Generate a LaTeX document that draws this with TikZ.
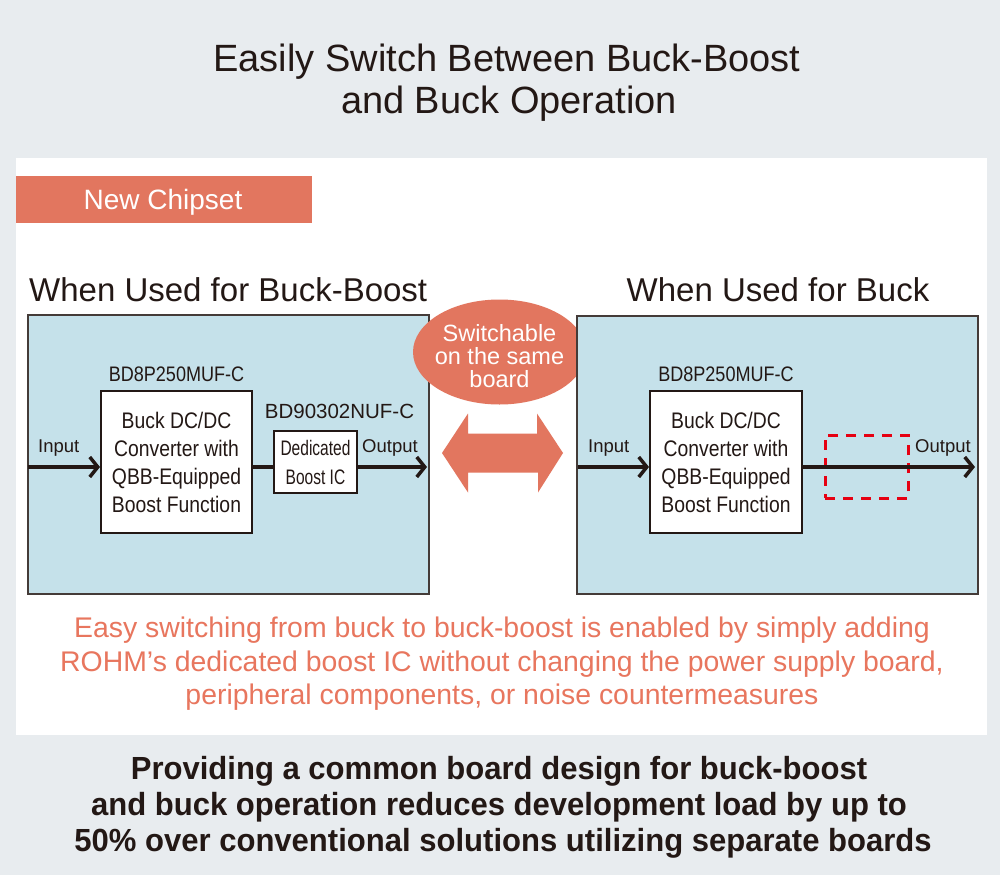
\documentclass[tikz,border=0pt]{standalone}
\usepackage{fontspec}
\setmainfont{Liberation Sans}
\newfontfamily\narrowfont[FakeStretch=0.86]{Liberation Sans}
\newfontfamily\slimfont[FakeStretch=0.74]{Liberation Sans}
\newfontfamily\boldnarrow[FakeStretch=0.97]{Liberation Sans}
\usepackage{xcolor}
\usepackage{tikz}
\usetikzlibrary{arrows.meta, positioning, shapes.geometric}

\definecolor{bggrey}{HTML}{E8ECEF}
\definecolor{rohmorange}{HTML}{E2765F}
\definecolor{noteorange}{HTML}{E8765E}
\definecolor{boardblue}{HTML}{C5E1EA}
\definecolor{inkblack}{HTML}{231815}
\definecolor{dashred}{HTML}{E60012}

\newcommand{\pxsize}[1]{\fontsize{#1}{#1}\selectfont}

\begin{document}
\begin{tikzpicture}[x=1pt, y=-1pt,
  board/.style={draw=inkblack!85, line width=1.2pt, fill=boardblue},
  chip/.style={draw=inkblack, line width=2pt, fill=white, inner sep=0pt, align=center, text=inkblack},
  sig/.style={draw=inkblack, line width=4pt, -{Straight Barb[length=8pt, width=20pt, line width=3.5pt]}},
  wire/.style={draw=inkblack, line width=4pt},
  txt/.style={inner sep=0pt, text=inkblack},
  pinlabel/.style={txt, anchor=base west, font=\pxsize{18.5}},
  partno/.style={txt, anchor=base, font=\narrowfont\pxsize{21}}]
  \useasboundingbox (0,0) rectangle (1000,875);

  % Background and panel
  \fill[bggrey] (0,0) rectangle (1000,875);
  \fill[white] (16,158) rectangle (987,735);

  % Title
  \node[txt, anchor=base, font=\pxsize{38}] (title1) at (507,71) {Easily Switch Between Buck-Boost};
  \node[txt, anchor=base, font=\pxsize{38}] (title2) at (509,113) {and Buck Operation};

  % New chipset banner
  \fill[rohmorange] (16,176) rectangle (312,223);
  \node[txt, anchor=base, text=white, font=\pxsize{28}] (banner) at (163,209) {New Chipset};

  % Buck-boost board
  \node[txt, anchor=base west, font=\pxsize{33}] (headL) at (29,301) {When Used for Buck-Boost};
  \draw[board] (28,315) rectangle (429,594);
  \node[chip, minimum width=151, minimum height=142, font=\narrowfont\pxsize{22.5}] (chipL) at (176.5,462)
    {Buck DC/DC\\[5.5pt]Converter with\\[5.5pt]QBB-Equipped\\[5.5pt]Boost Function};
  \node[partno] (partL) at (176.5,381) {BD8P250MUF-C};
  \node[chip, minimum width=83, minimum height=62, font=\slimfont\pxsize{21}] (boost) at (315.5,462)
    {Dedicated\\[8pt]Boost IC};
  \node[partno, font=\pxsize{20.5}] (partB) at (339.5,418) {BD90302NUF-C};
  \coordinate (inL) at (28,467);
  \coordinate (outL) at (427,467);
  \draw[sig] (inL) -- (inL -| chipL.west);
  \draw[wire] (inL -| chipL.east) -- (inL -| boost.west);
  \draw[sig] (inL -| boost.east) -- (outL);
  \node[pinlabel] (inLabelL) at (38,452) {Input};
  \node[pinlabel] (outLabelL) at (362,452) {Output};

  % Switch badge and double arrow
  \node[ellipse, fill=rohmorange, minimum width=173, minimum height=105, inner sep=0pt] (switch) at (499.5,352) {};
  \node[txt, align=center, text=white, font=\pxsize{23.5}] (switchText) at (499.5,356)
    {Switchable\\[-0.5pt]on the same\\[-0.5pt]board};
  \coordinate (swap) at (502.5,453);
  \fill[rohmorange] ([xshift=-60.5]swap) -- ++(26,-39.5) -- ++(0,20) -- ++(69,0) -- ++(0,-20)
    -- ([xshift=60.5]swap) -- ++(-25,39.5) -- ++(0,-20) -- ++(-70,0) -- ++(0,20) -- cycle;

  % Buck board
  \node[txt, anchor=base, font=\pxsize{33}] (headR) at (778,301) {When Used for Buck};
  \draw[board] (577,316) rectangle (978,594);
  \node[chip, minimum width=152, minimum height=142, font=\narrowfont\pxsize{22.5}] (chipR) at (726,462)
    {Buck DC/DC\\[5.5pt]Converter with\\[5.5pt]QBB-Equipped\\[5.5pt]Boost Function};
  \node[partno] (partR) at (726,381) {BD8P250MUF-C};
  \node[draw=dashred, line width=3pt, dash pattern=on 10pt off 8pt, minimum width=83, minimum height=63, inner sep=0pt] (slot) at (866.5,466.5) {};
  \coordinate (inR) at (578,467);
  \coordinate (outR) at (975,467);
  \draw[sig] (inR) -- (inR -| chipR.west);
  \draw[sig] (inR -| chipR.east) -- (outR);
  \node[pinlabel] (inLabelR) at (588,452) {Input};
  \node[pinlabel] (outLabelR) at (915,452) {Output};

  % Note
  \node[txt, anchor=base, text=noteorange, font=\pxsize{28.4}] (note1) at (502,637) {Easy switching from buck to buck-boost is enabled by simply adding};
  \node[txt, anchor=base, text=noteorange, font=\pxsize{28.4}] (note2) at (502,671) {ROHM’s dedicated boost IC without changing the power supply board,};
  \node[txt, anchor=base, text=noteorange, font=\pxsize{28.4}] (note3) at (502,704) {peripheral components, or noise countermeasures};

  % Summary
  \node[txt, anchor=base, font=\boldnarrow\bfseries\pxsize{32}] (sum1) at (499,779) {Providing a common board design for buck-boost};
  \node[txt, anchor=base, font=\boldnarrow\bfseries\pxsize{32}] (sum2) at (499,815) {and buck operation reduces development load by up to};
  \node[txt, anchor=base, font=\boldnarrow\bfseries\pxsize{32}] (sum3) at (503,851) {50\% over conventional solutions utilizing separate boards};
\end{tikzpicture}
\end{document}
